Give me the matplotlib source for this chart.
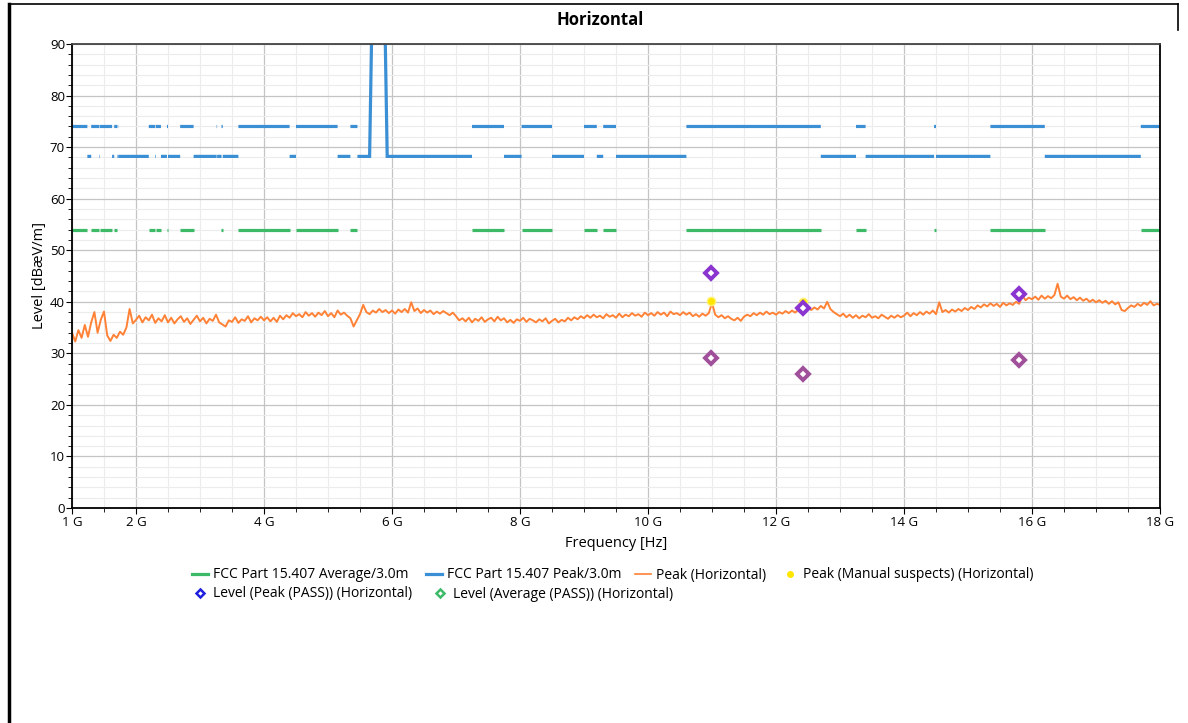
import numpy as np
import matplotlib.pyplot as plt
from matplotlib.lines import Line2D
from matplotlib.ticker import MultipleLocator, FixedLocator

plt.rcParams['font.family'] = ['Open Sans', 'DejaVu Sans']

# restricted bands (GHz): 74 dBuV/m peak, 54 dBuV/m average
restricted_bands = [(1.0, 1.24), (1.3, 1.427), (1.435, 1.6265), (1.6455, 1.6465),
                    (1.66, 1.71), (1.7188, 1.7222), (2.2, 2.3), (2.31, 2.39),
                    (2.4835, 2.5), (2.69, 2.9), (3.26, 3.267), (3.332, 3.339),
                    (3.3458, 3.358), (3.6, 4.4), (4.5, 5.15), (5.35, 5.46),
                    (7.25, 7.75), (8.025, 8.5), (9.0, 9.2), (9.3, 9.5),
                    (10.6, 12.7), (13.25, 13.4), (14.47, 14.5), (15.35, 16.2),
                    (17.7, 18.0)]
# other bands: 68.2 dBuV/m peak
other_bands = [(1.24, 1.3), (1.427, 1.435), (1.6265, 1.6455), (1.6465, 1.66),
               (1.71, 1.7188), (1.7222, 2.2), (2.3, 2.31), (2.39, 2.4835),
               (2.5, 2.69), (2.9, 3.26), (3.267, 3.332), (3.339, 3.3458),
               (3.358, 3.6), (4.4, 4.5), (5.15, 5.35), (7.75, 8.025),
               (8.5, 9.0), (9.2, 9.3), (9.5, 10.6), (12.7, 13.25),
               (13.4, 14.47), (14.5, 15.35), (16.2, 17.7)]
# band edge around U-NII-3
edge_freq = [5.46, 5.65, 5.7, 5.72, 5.725, 5.85, 5.855, 5.875, 5.925, 7.25]
edge_level = [68.2, 68.2, 105.2, 110.8, 122.2, 122.2, 110.8, 105.2, 68.2, 68.2]

peak_restricted = 74.0
avg_restricted = 54.0
peak_other = 68.2

# peak trace, 1 GHz to 18 GHz every 50 MHz
trace_start = 1.0
trace_step = 0.05
trace = [
    34.0, 32.3, 34.5, 33.0, 35.5, 33.2, 36.0, 38.0, 34.0, 36.5, 38.1, 33.5, 32.4, 33.6, 33.0, 34.2, 33.6, 35.0, 38.6, 35.8,
    36.5, 37.3, 36.0, 37.0, 36.4, 37.5, 35.9, 36.8, 36.2, 37.4, 36.0, 36.9, 35.8, 36.6, 37.2, 36.1, 36.8, 35.7, 36.5, 37.3,
    36.2, 36.9, 35.8, 36.7, 36.3, 37.5, 36.0, 35.6, 35.2, 36.4, 36.1, 37.0, 35.9, 36.6, 36.3, 37.2, 36.0, 36.8, 36.4, 37.1,
    36.4, 37.0, 36.2, 36.9, 36.1, 37.3, 36.6, 37.4, 36.9, 37.8, 37.2, 37.6, 37.0, 38.0, 37.3, 37.8, 37.1, 37.9, 37.4, 38.2,
    37.2, 37.8, 37.0, 38.3, 37.5, 37.9, 37.3, 36.8, 35.2, 36.4, 37.6, 39.4, 38.0, 37.6, 38.3, 37.9, 38.6, 38.0, 38.4, 37.8,
    38.3, 37.7, 38.5, 38.0, 38.6, 37.9, 39.9, 38.2, 38.7, 37.8, 38.4, 37.9, 38.3, 37.6, 38.1, 37.7, 38.2, 37.8, 37.4, 37.9,
    37.2, 36.4, 36.8, 36.2, 36.9, 36.0, 36.7, 36.3, 37.0, 36.1, 36.6, 36.9, 36.2, 37.1, 36.4, 36.8, 36.0, 36.5, 35.9, 36.6,
    36.3, 36.9, 36.1, 36.7, 36.4, 36.0, 36.6, 36.2, 36.8, 35.8, 36.3, 36.7, 36.0, 36.5, 36.2, 36.9, 36.4, 37.0, 36.6, 37.2,
    36.8, 37.4, 36.9, 37.5, 37.0, 37.3, 36.8, 37.6, 37.1, 37.4, 36.9, 37.7, 37.0, 37.5, 37.2, 37.8, 37.3, 37.6, 37.1, 37.9,
    37.4, 37.8, 37.3, 38.0, 37.5, 37.9, 37.2, 38.1, 37.6, 37.8, 37.4, 38.0, 37.5, 37.9, 37.2, 37.6, 37.1, 37.7, 37.3, 37.8,
    39.8, 37.5, 37.0, 37.4, 36.8, 37.2, 36.7, 36.4, 36.9, 36.3, 37.1, 37.5, 37.2, 37.8, 37.4, 37.9, 37.5, 38.1, 37.6, 37.9,
    37.5, 38.0, 37.7, 38.2, 37.8, 38.3, 37.9, 38.5, 38.1, 38.8, 39.0, 38.4, 38.9, 38.5, 39.2, 38.7, 40.0, 38.6, 38.0, 37.6,
    37.2, 37.7, 37.0, 37.5, 36.9, 37.4, 36.8, 37.3, 37.0, 37.6, 36.9, 37.2, 36.8, 37.5, 37.1, 36.7, 37.3, 36.9, 37.4, 37.0,
    37.3, 37.9, 37.2, 37.8, 37.4, 38.0, 37.5, 38.1, 37.7, 38.3, 37.6, 39.9, 38.0, 38.4, 37.9, 38.5, 38.1, 38.6, 38.2, 38.8,
    38.4, 39.0, 38.6, 39.3, 38.9, 39.5, 39.1, 39.7, 39.2, 39.6, 39.0, 39.8, 39.3, 39.7, 39.4, 40.0, 39.6, 41.2, 40.3, 40.8,
    40.5, 41.0, 40.4, 41.2, 40.6, 41.1, 40.7, 41.3, 43.5, 41.0, 40.6, 41.2, 40.5, 40.9, 40.3, 40.8, 40.2, 40.6, 40.0, 40.4,
    39.9, 40.3, 39.8, 40.2, 39.6, 40.1, 39.5, 39.9, 38.4, 38.2, 38.8, 39.3, 39.0, 39.6, 39.2, 39.8, 39.4, 40.1, 39.3, 39.6,
    39.4,
]

# final measurements
meas_freq = [10.98, 12.42, 15.80]
meas_peak = [45.5, 38.8, 41.5]
meas_avg = [29.0, 26.0, 28.7]
suspect_freq = [10.98, 12.42]
suspect_level = [40.1, 40.0]

tick_freqs = [1, 2, 4, 6, 8, 10, 12, 14, 16, 18]
tick_labels = ['1 G', '2 G', '4 G', '6 G', '8 G', '10 G', '12 G', '14 G', '16 G', '18 G']


def segments(bands, level):
    xs, ys = [], []
    for a, b in bands:
        xs += [a, b, np.nan]
        ys += [level, level, np.nan]
    return xs, ys


c_avg = '#3dba68'
c_peak = '#3b8fd4'
c_trace = '#ff8236'

fig = plt.figure(figsize=(11.88, 7.23), dpi=100)
ax = fig.add_axes([72 / 1188, 1 - 508 / 723, (1160 - 72) / 1188, (508 - 44) / 723])

ax.grid(which='major', color='#c4c4c4', lw=0.9)
ax.grid(which='minor', color='#ececec', lw=0.8)
ax.set_axisbelow(True)

xa, ya = segments(restricted_bands, avg_restricted)
ax.plot(xa, ya, color=c_avg, lw=2.3, solid_capstyle='butt')

xp, yp = segments(restricted_bands, peak_restricted)
xo, yo = segments(other_bands, peak_other)
ax.plot(xp + xo + edge_freq, yp + yo + edge_level, color=c_peak, lw=2.3,
        solid_capstyle='butt', solid_joinstyle='miter')

trace_freq = trace_start + trace_step * np.arange(len(trace))
ax.plot(trace_freq, trace, color=c_trace, lw=1.4)

ax.plot(suspect_freq, suspect_level, 'o', color='#ffe600', ms=6, mec='#fff27a')
ax.plot(meas_freq, meas_avg, 'D', ms=6.5, mfc='white', mec='#a0509a', mew=2.8)
ax.plot(meas_freq, meas_peak, 'D', ms=6.5, mfc='white', mec='#8a35d0', mew=2.8)

ax.set_xlim(1, 18)
ax.set_ylim(0, 90)
ax.xaxis.set_major_locator(FixedLocator(tick_freqs))
ax.set_xticklabels(tick_labels)
ax.xaxis.set_minor_locator(MultipleLocator(0.5))
ax.yaxis.set_major_locator(MultipleLocator(10))
ax.yaxis.set_minor_locator(MultipleLocator(2))
ax.tick_params(which='both', direction='out', labelsize=9.5, color='black')
ax.tick_params(which='major', length=4)
ax.tick_params(which='minor', length=3)
ax.tick_params(axis='y', pad=1)
ax.tick_params(axis='x', pad=2)
for s in ['left', 'bottom', 'right']:
    ax.spines[s].set_color('black')
    ax.spines[s].set_linewidth(1.3)
ax.spines['top'].set_color('#444444')
ax.spines['top'].set_linewidth(1.3)

ax.set_xlabel('Frequency [Hz]', fontsize=10.5, labelpad=5)
ax.set_ylabel('Level [dBæV/m]', fontsize=10.5, labelpad=2)
fig.suptitle('Horizontal', x=0.505, y=0.985, fontsize=12, fontweight='bold')

# legend items placed like the report's flowing legend (left x in px, centre y in px)
legend_items = [
    (Line2D([], [], color=c_avg, lw=2.3), 'FCC Part 15.407 Average/3.0m', 192, 575),
    (Line2D([], [], color=c_peak, lw=2.3), 'FCC Part 15.407 Peak/3.0m', 426, 575),
    (Line2D([], [], color=c_trace, lw=1.2), 'Peak (Horizontal)', 635, 575),
    (Line2D([], [], ls='none', marker='o', ms=4, color='#ffe600'),
     'Peak (Manual suspects) (Horizontal)', 782, 575),
    (Line2D([], [], ls='none', marker='D', ms=4, mfc='white', mec='#2020e0', mew=1.8),
     'Level (Peak (PASS)) (Horizontal)', 192, 594),
    (Line2D([], [], ls='none', marker='D', ms=4, mfc='white', mec=c_avg, mew=1.8),
     'Level (Average (PASS)) (Horizontal)', 432, 594),
]
for h, lab, px, py in legend_items:
    fig.legend([h], [lab], loc='center left', bbox_to_anchor=(px / 1188, 1 - py / 723),
               frameon=False, fontsize=10, handlelength=1.15, handletextpad=0.36,
               borderpad=0, borderaxespad=0)

# report frame
fig.add_artist(Line2D([9 / 1188, 9 / 1188], [0, 1 - 4 / 723], color='black', lw=2.5))
fig.add_artist(Line2D([9 / 1188, 1178 / 1188], [1 - 4 / 723, 1 - 4 / 723], color='black', lw=1.2))
fig.add_artist(Line2D([1178 / 1188, 1178 / 1188], [1 - 4 / 723, 1 - 30 / 723], color='black', lw=1.2))

fig.savefig('out.png', dpi=100)
